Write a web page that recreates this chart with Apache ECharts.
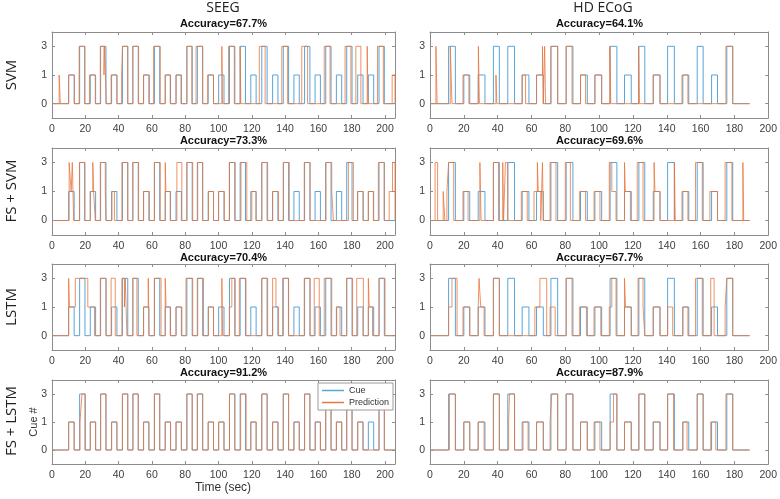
<!DOCTYPE html>
<html><head><meta charset="utf-8">
<script src="https://cdn.jsdelivr.net/npm/echarts@6/dist/echarts.min.js"></script>
<style>html,body{margin:0;padding:0;background:#fff}#c{width:780px;height:499px}</style>
</head><body><div id="c"></div>
<script>
// y levels shown (categorical spacing as in the reference)
const levelLabels = ['0', '1', '3'];
const xTicksSEEG = [0, 206];
const xTicksECoG = [0, 200];
const columnTitles = ['SEEG', 'HD ECoG'];
const rowTitles = ['SVM', 'FS + SVM', 'LSTM', 'FS + LSTM'];
const accuracies = [['Accuracy=67.7%', 'Accuracy=64.1%'], ['Accuracy=73.3%', 'Accuracy=69.6%'],
                    ['Accuracy=70.4%', 'Accuracy=67.7%'], ['Accuracy=91.2%', 'Accuracy=87.9%']];

// pulses: [start, end, level]
const seegCue = [[10,13.3,1],[16.6,19.8,3],[23,26.2,1],[29.2,32.4,3],[35.8,39,1],[42.3,45.5,3],[48.6,51.8,3],[55,58.2,1],[61.5,64.7,3],[68,71.2,1],[74.5,77.7,1],[81,84.2,3],[87.3,90.5,3],[93.8,97,1],[100.1,103.3,1],[106.6,109.8,3],[113,116.2,3],[119.4,122.6,1],[126,129.2,3],[132.5,135.7,1],[138.9,142.1,3],[145.3,148.5,1],[151.7,154.9,3],[158,161.2,1],[164.4,167.6,3],[170.8,174,1],[177,180.2,3],[183.6,186.8,1],[190,193.2,1],[196.4,199.6,3]];
const ecogCue = [[11,15,3],[20,23.5,1],[28.5,32.5,1],[37.5,41,3],[46,50,3],[54.5,58.5,1],[63,67,1],[71.5,75.5,3],[80.5,84.5,3],[89,93,1],[97.5,101.5,1],[106.5,110.5,3],[115,119,1],[123.5,127,3],[132,136,1],[140.5,144.5,3],[149.5,153,1],[158,161.5,3],[166.5,170,1],[175.5,179,3]];

const svmSeegPred = [[4.3,5,1],[10,13.5,1],[16.3,19.5,3],[22.5,26,1],[29,31.2,3],[31.2,31.6,1],[31.6,32.6,3],[35.5,39,1],[41.8,42.4,1],[42.4,45.5,3],[48.5,52,3],[55,58.5,1],[61,65,3],[68,71,1],[74.5,77.5,1],[81,84,3],[86.5,90.5,3],[93.5,97,1],[102,102.4,3],[106,109.5,3],[113,113.4,3],[124.5,128,3],[138,141.5,3],[150,153.5,3],[163.5,167,3],[176,179.5,3],[182.5,185.5,3],[189.3,189.8,3],[195.5,199,3],[204.3,206,1]];
const svmEcogPred = [[3.5,4.2,3],[12,13,3],[19.5,23,1],[28.6,29.2,3],[39,39.5,1],[54.5,56.5,1],[63,66.5,1],[66.5,67,3],[67.8,68.3,3],[71.5,75.5,3],[80.5,84,3],[89,92,1],[97.5,101.5,1],[106.3,106.9,3],[123.3,123.8,3],[132,136,1],[149,152.5,1],[175,179,3]];
const fsSvmSeegPred = [[10.3,11.5,3],[11.5,12.2,1],[12.2,13,3],[16.5,19.5,3],[23,24.5,1],[24.5,25,3],[25,26,1],[29,32,3],[32,32.5,1],[36,37.5,1],[42,45.5,3],[48.5,52,3],[55,58.5,1],[61.5,65,3],[68,68.4,3],[68.4,71,1],[75,78,3],[81,84.5,3],[87.5,90.5,3],[94,97,1],[100,103.5,1],[106.5,110,3],[113.5,117,3],[120,122.5,1],[126,129.5,3],[132.5,136,1],[139,142.5,3],[151.5,155,3],[164.5,168,3],[168,169,1],[178,181,3],[183.5,187,1],[190,193,1],[196,199.5,3],[202.5,204.5,1],[204.5,206,3]];
const fsSvmEcogPred = [[3,4.5,3],[7.8,8.8,1],[10,11,1],[11,14,3],[19.5,22.5,1],[29.5,30.2,3],[37.5,40.5,3],[43,43.5,3],[44.6,46,3],[54,57.5,1],[61.5,63.5,1],[63.5,64,3],[64,65.5,1],[66.5,67,3],[71,74.5,3],[80,83,3],[88.5,92,1],[97,100.5,1],[106,107.5,3],[107.5,110,1],[115,115.5,3],[115.5,118.5,1],[122.5,126,3],[132.5,133,3],[133,136,1],[144.5,145,3],[149,152.5,1],[157,161,3],[165.5,170,1],[174.5,178.5,3],[185,185.5,3]];
const lstmSeegPred = [[10,10.5,3],[10.5,14,1],[14,21.5,3],[21.5,25.5,1],[29,32.5,3],[35.5,38,3],[42,43.5,3],[43.5,44,1],[44,45,3],[48.5,51,3],[55,57.8,1],[57.8,58.3,3],[61.5,65.5,3],[68,68.5,3],[68.5,71,1],[74.5,78,1],[80.5,84.5,3],[87.5,91,3],[94,97,1],[102,102.5,3],[106.5,108,1],[108,110,3],[112.5,116.5,3],[126,129.5,3],[132.5,134.5,3],[134.5,136,1],[138.5,142,3],[151.5,155,3],[157.5,160.5,3],[163.5,168,3],[171,173,1],[177,180.5,3],[183,187,3],[190,190.5,3],[190.5,192.5,1],[196.5,200,3]];
const lstmEcogPred = [[11,13,1],[13,16,3],[19.5,23.5,1],[28.5,29,1],[29,30,3],[30,32,1],[37.5,41,3],[62,65,1],[65,69,3],[71,74,1],[80.5,84,3],[88.5,92.5,1],[97,101,1],[106,107.5,1],[107.5,110,3],[115,115.6,3],[115.6,119,1],[123,126,3],[126,127,1],[132,136,1],[140.5,143.5,1],[149.5,152.5,1],[157,161,3],[166,168,3],[174.5,175.5,1],[175.5,179,3]];
const fsLstmSeegPred = [[10,13.3,1],[16.8,18,1],[18,20.1,3],[23,26.2,1],[29.2,32.4,3],[35.8,39,1],[42.3,45.5,3],[48.6,51.8,3],[55,58.2,1],[61.5,64.7,3],[68,71.2,1],[74.5,77.7,1],[81,84.2,3],[87.3,90.5,3],[93.8,97,1],[100.1,103.3,1],[106.6,109.8,3],[113.3,116.6,3],[119.4,122.6,1],[126,129.2,3],[132.5,135.7,1],[138.9,142.1,3],[145.3,148.5,1],[151.7,154.9,3],[158.3,161.2,1],[164.4,167.6,3],[170.8,174,1],[177,180.2,3],[183.6,186.8,1],[196.4,199.6,3]];
const fsLstmEcogPred = [[11.5,15,3],[20,23.5,1],[28.5,32,1],[37.5,41,3],[46.5,47,1],[47,50,3],[55,58,1],[63,67,1],[71,72,1],[72,75.5,3],[80.5,84.5,3],[89,93,1],[97,100.5,1],[106.5,108.5,1],[108.5,110.5,3],[115,119,1],[123.5,127,3],[132,136,1],[140.5,144,3],[149.5,152,1],[158,161.5,3],[166,169,1],[175,179,3]];

const seegEnd = 206, ecogEnd = 189;

const predictions = [[svmSeegPred, svmEcogPred], [fsSvmSeegPred, fsSvmEcogPred],
                     [lstmSeegPred, lstmEcogPred], [fsLstmSeegPred, fsLstmEcogPred]];

const levelIndex = {0: 0, 1: 1, 3: 2};
function steps(pulses, end) {
  const pts = [[0, 0]];
  let level = 0;
  pulses.forEach((p, i) => {
    const [s, e, v] = p;
    pts.push([s, level]); pts.push([s, v]); pts.push([e, v]);
    const next = pulses[i + 1];
    if (next && Math.abs(next[0] - e) < 1e-6) { level = v; }
    else { pts.push([e, 0]); level = 0; }
  });
  pts.push([end, 0]);
  return pts.map(([x, v]) => [x, levelIndex[v]]);
}

const gridLeft = [52, 430], gridWidth = [343, 339];
const gridTop = [32, 148, 264, 380], gridHeight = [86, 87, 86, 84];
const titleTop = [18, 135, 252, 367];
const boxColor = '#8c8c8c', labelColor = '#404040';
const cueColor = '#58a5d8', predColor = '#e8773f';

const grid = [], xAxis = [], yAxis = [], series = [], title = [];
let gi = 0;
for (let r = 0; r < 4; r++) {
  for (let c = 0; c < 2; c++) {
    grid.push({left: gridLeft[c], top: gridTop[r], width: gridWidth[c], height: gridHeight[r], containLabel: false});
    const range = c === 0 ? xTicksSEEG : xTicksECoG;
    const common = {type: 'value', gridIndex: gi, min: range[0], max: range[1], interval: 20,
      splitLine: {show: false},
      axisLine: {show: true, onZero: false, lineStyle: {color: boxColor, width: 1}},
      axisTick: {show: true, inside: true, length: 3, lineStyle: {color: boxColor}}};
    xAxis.push(Object.assign({}, common, {position: 'bottom',
      axisLabel: {show: true, fontSize: 10.5, color: labelColor, margin: 6, fontFamily: 'Liberation Sans',
        showMaxLabel: c === 1, formatter: v => (v % 20 === 0 ? String(v) : '')}}));
    xAxis.push(Object.assign({}, common, {position: 'top', axisLabel: {show: false}}));
    const ycommon = {type: 'category', gridIndex: gi, data: levelLabels, boundaryGap: true,
      splitLine: {show: false},
      axisLine: {show: true, onZero: false, lineStyle: {color: boxColor, width: 1}},
      axisTick: {show: true, inside: true, alignWithLabel: true, length: 3, lineStyle: {color: boxColor}}};
    yAxis.push(Object.assign({}, ycommon, {position: 'left',
      axisLabel: {show: true, fontSize: 10.5, color: labelColor, margin: 5, fontFamily: 'Liberation Sans'}}));
    yAxis.push(Object.assign({}, ycommon, {position: 'right', axisLabel: {show: false}}));
    const cue = c === 0 ? seegCue : ecogCue;
    const end = c === 0 ? seegEnd : ecogEnd;
    series.push({name: 'Cue', type: 'line', xAxisIndex: 2 * gi, yAxisIndex: 2 * gi,
      data: steps(cue, end), showSymbol: false, symbol: 'none', silent: true, animation: false,
      lineStyle: {color: cueColor, width: 1}, itemStyle: {color: cueColor}});
    series.push({name: 'Prediction', type: 'line', xAxisIndex: 2 * gi, yAxisIndex: 2 * gi,
      data: steps(predictions[r][c], end), showSymbol: false, symbol: 'none', silent: true, animation: false,
      lineStyle: {color: predColor, width: 1, opacity: 0.8}, itemStyle: {color: predColor}});
    title.push({text: accuracies[r][c], left: gridLeft[c] + gridWidth[c] / 2, top: titleTop[r], textAlign: 'center',
      padding: 0,
      textStyle: {fontSize: 11, fontWeight: 'bold', color: '#111', fontFamily: 'Liberation Sans'}});
    gi++;
  }
}

const graphic = [
  {type: 'text', x: 223, y: 8, style: {text: columnTitles[0], font: '14px "Open Sans"', fill: '#222', textAlign: 'center', textVerticalAlign: 'middle'}},
  {type: 'text', x: 603, y: 8, style: {text: columnTitles[1], font: '14px "Open Sans"', fill: '#222', textAlign: 'center', textVerticalAlign: 'middle'}},
  {type: 'text', x: 223, y: 488, style: {text: 'Time (sec)', font: '12px "Liberation Sans"', fill: '#333', textAlign: 'center', textVerticalAlign: 'middle'}},
  {type: 'text', x: 34, y: 422, rotation: Math.PI / 2, style: {text: 'Cue #', font: '11px "Liberation Sans"', fill: '#333', textAlign: 'center', textVerticalAlign: 'middle'}}
];
const rowCenters = [75, 191, 307, 421];
rowTitles.forEach((t, i) => graphic.push({type: 'text', x: 12, y: rowCenters[i], rotation: Math.PI / 2,
  style: {text: t, font: '15px "Open Sans"', fill: '#222', textAlign: 'center', textVerticalAlign: 'middle'}}));

const chart = echarts.init(document.getElementById('c'), null, {renderer: 'canvas'});
chart.setOption({
  animation: false,
  backgroundColor: '#fff',
  title, grid, xAxis, yAxis, series, graphic,
  legend: {data: ['Cue', 'Prediction'], orient: 'vertical', left: 318, top: 383,
    backgroundColor: '#fff', borderColor: '#9a9a9a', borderWidth: 1, padding: [3, 4, 3, 4],
    itemGap: 3, itemWidth: 22, itemHeight: 1.5, icon: 'rect', selectedMode: false,
    textStyle: {fontSize: 9, color: '#333', fontFamily: 'Liberation Sans'}}
});
</script></body></html>
